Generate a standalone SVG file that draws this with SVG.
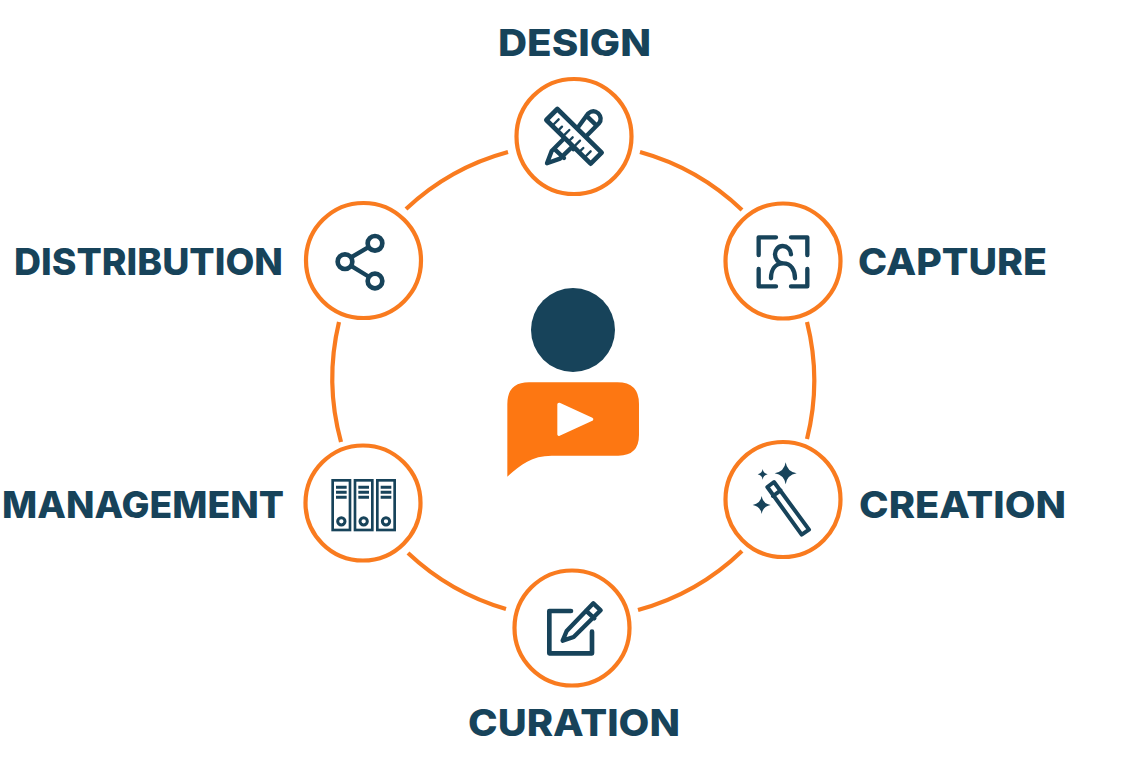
<svg xmlns="http://www.w3.org/2000/svg" width="1141" height="765" viewBox="0 0 1141 765">
<style>
.lbl{font-family:"Inter","Liberation Sans",sans-serif;font-weight:800;font-size:37px;fill:#17435a}
.arc{fill:none;stroke:#f97b1f;stroke-width:4.200}
.ring{fill:#fff;stroke:#f97b1f;stroke-width:4.200}
.i{fill:none;stroke:#17435a;stroke-linecap:round;stroke-linejoin:round}
.d{fill:#17435a}
.b{fill:none;stroke:#17435a}
</style>
<defs>
<g id="binder">
<rect class="b" x="113" y="121" width="52" height="149" stroke-width="8"/>
<path class="b" stroke-width="9" d="M123 142H155M123 157H155M123 172H155"/>
<circle class="b" cx="139" cy="244" r="11" stroke-width="9"/>
</g>
</defs>
<rect width="1141" height="765" fill="#fff"/>
<g id="connectors">
<path class="arc" d="M640 152A240.500 240.500 0 0 1 742 210"/>
<path class="arc" d="M807 322A240.500 240.500 0 0 1 807 439"/>
<path class="arc" d="M742 551A240.500 240.500 0 0 1 638 610"/>
<path class="arc" d="M506 609A240.500 240.500 0 0 1 408 553"/>
<path class="arc" d="M341 442A240.500 240.500 0 0 1 339 322"/>
<path class="arc" d="M406 209A240.500 240.500 0 0 1 508 152"/>
</g>
<g id="center">
<circle class="d" cx="573" cy="330" r="42"/>
<g transform="translate(495 280) scale(.3333)">
<path fill="#fd7712" d="M37 590V372Q37 307 102 307H367Q432 307 432 372V465Q432 527 370 527H170C110 527 75 555 37 590Z"/>
<path fill="#fff" stroke="#fff" stroke-width="10" stroke-linejoin="round" d="M192 373L290 418L192 463Z"/>
</g>
</g>
<g id="design">
<circle class="ring" cx="574" cy="136.500" r="57.500"/>
<g transform="translate(500 70) scale(.3333)">
<path class="i" stroke-width="13" d="M210 205L265 130Q280 118 295 130Q308 145 297 160L220 238M259 137L290 167"/>
<path class="i" stroke-width="13" stroke-linecap="butt" d="M190 208L155 243L141 280L180 266L215 232M162 236L192 264"/>
<path class="i" stroke-width="14" stroke-linecap="butt" stroke-linejoin="miter" style="fill:#fff" d="M172 117L139 150L272 281L305 248Z"/>
<path class="i" stroke-width="7" stroke-linecap="butt" d="M162 162L176 148M178 178L186 170M194 194L208 180M210 210L218 202M226 226L240 212M242 242L250 234M258 258L272 244"/>
</g>
<text class="lbl" x="498" y="56" textLength="153" lengthAdjust="spacingAndGlyphs">DESIGN</text>
</g>
<g id="capture">
<circle class="ring" cx="783" cy="261" r="57.500"/>
<g transform="translate(715 195) scale(.3333)">
<path class="i" stroke-width="13" d="M131 180V127H183M228 127H277V180M131 222V274H183M228 274H277V222"/>
<path class="i" stroke-width="13" d="M168 250C168 222 182 205 205 205C228 205 240 225 240 250M205 205C190 205 180 192 180 178C180 164 190 153 203 153C217 153 228 164 228 178"/>
</g>
<text class="lbl" x="858" y="275" textLength="189" lengthAdjust="spacingAndGlyphs">CAPTURE</text>
</g>
<g id="creation">
<circle class="ring" cx="783" cy="499.500" r="57.500"/>
<g transform="translate(715 435) scale(.3333)">
<path class="i" stroke-width="12" d="M157 156L177 141L282 284L260 299ZM174 183L197 166"/>
<path class="d" d="M212 82Q216 110 245 115Q216 120 212 148Q208 120 179 115Q208 110 212 82Z"/>
<path class="d" d="M143 102Q145 115 158 118Q145 121 143 134Q141 121 128 118Q141 115 143 102Z"/>
<path class="d" d="M140 183Q143 205 167 210Q143 215 140 237Q137 215 113 210Q137 205 140 183Z"/>
</g>
<text class="lbl" x="859" y="518" textLength="207" lengthAdjust="spacingAndGlyphs">CREATION</text>
</g>
<g id="curation">
<circle class="ring" cx="572" cy="628" r="57.500"/>
<g transform="translate(505 565) scale(.3333)">
<path class="i" stroke-width="14" d="M198 138H133V265H261V200"/>
<path class="i" stroke-width="13" d="M173 227L185 198L265 115L287 136L206 216ZM243 137L268 160"/>
</g>
<text class="lbl" x="468" y="736" textLength="212" lengthAdjust="spacingAndGlyphs">CURATION</text>
</g>
<g id="management">
<circle class="ring" cx="363" cy="503" r="57.500"/>
<g transform="translate(295 440) scale(.3333)">
<use href="#binder"/>
<use href="#binder" x="67"/>
<use href="#binder" x="134"/>
</g>
<text class="lbl" x="2" y="518" textLength="282" lengthAdjust="spacingAndGlyphs">MANAGEMENT</text>
</g>
<g id="distribution">
<circle class="ring" cx="363.500" cy="260.500" r="57.500"/>
<g transform="translate(295 195) scale(.3333)">
<path class="i" stroke-width="13" d="M172 185L218 158M172 215L218 243"/>
<circle class="i" stroke-width="14" cx="240" cy="145" r="22"/>
<circle class="i" stroke-width="14" cx="150" cy="200" r="22"/>
<circle class="i" stroke-width="14" cx="240" cy="258" r="22"/>
</g>
<text class="lbl" x="14" y="275" textLength="269" lengthAdjust="spacingAndGlyphs">DISTRIBUTION</text>
</g>
</svg>
